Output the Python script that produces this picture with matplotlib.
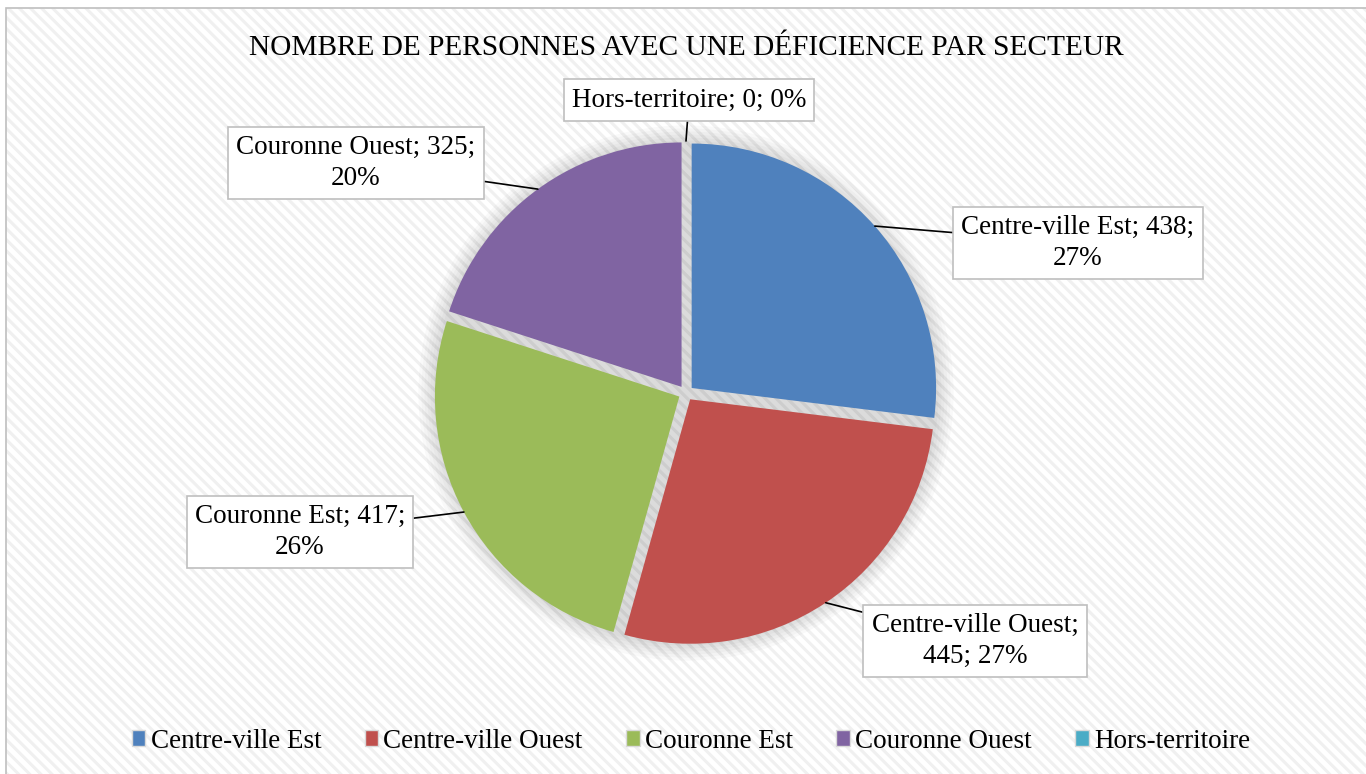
import numpy as np
import matplotlib
matplotlib.use("agg")
import matplotlib.pyplot as plt
from matplotlib.patches import Rectangle

# data
sectors = ["Centre-ville Est", "Centre-ville Ouest", "Couronne Est", "Couronne Ouest", "Hors-territoire"]
counts = [438, 445, 417, 325, 0]
colors = ["#4F81BD", "#C0504D", "#9BBB59", "#8064A2", "#4BACC6"]
title = "NOMBRE DE PERSONNES AVEC UNE DÉFICIENCE PAR SECTEUR"

plt.rcParams["font.family"] = ["Liberation Serif", "DejaVu Serif"]
plt.rcParams["hatch.linewidth"] = 2.2

W, H = 1366, 774
CX, CY, R = 686, 393, 252


def px(x, y):
    # pixel position -> data coords (pie radius = 1)
    return (x - CX) / R, (CY - y) / R


fig = plt.figure(figsize=(W / 100, H / 100), dpi=100)
fig.patch.set_facecolor("white")

# background with diagonal stripes + frame
bg = Rectangle((6, 0), W - 6, H - 8, transform=None, facecolor="white",
               edgecolor="#f0f0f0", hatch="\\\\\\", linewidth=0, zorder=-10)
fig.add_artist(bg)

ax = fig.add_axes([0, 0, 1, 1], zorder=1)
ax.patch.set_visible(False)
ax.axis("off")

# soft shadow
for k in range(6):
    ax.add_patch(plt.Circle((0, 0), 0.99 + 0.012 * (k + 1), color="#000000",
                            alpha=0.022, lw=0, zorder=1))

total = sum(counts)
wedges, _ = ax.pie(counts, colors=colors, startangle=90, counterclock=False,
                   explode=[0.03] * len(counts), radius=0.97,
                   wedgeprops=dict(linewidth=0), normalize=True)
ax.set_aspect("auto")
ax.set_xlim(-CX / R, (W - CX) / R)
ax.set_ylim((CY - H) / R, CY / R)
for w in wedges:
    w.set_zorder(3)

label_pos = [(1078, 243), (975, 641), (300, 532), (356, 163), (689, 100)]
for i, w in enumerate(wedges):
    pct = round(counts[i] / total * 100)
    if sectors[i] == "Centre-ville Ouest":
        txt = f"{sectors[i]};\n{counts[i]}; {pct}%"
    elif sectors[i] == "Hors-territoire":
        txt = f"{sectors[i]}; {counts[i]}; {pct}%"
    else:
        txt = f"{sectors[i]}; {counts[i]};\n{pct}%"
    ang = np.deg2rad((w.theta1 + w.theta2) / 2)
    cx, cy = w.center
    anchor = (cx + w.r * np.cos(ang), cy + w.r * np.sin(ang))
    ax.annotate(txt, xy=anchor, xytext=px(*label_pos[i]), ha="center", va="center",
                fontsize=19.5, linespacing=1.3, zorder=5,
                bbox=dict(boxstyle="square,pad=0.3", facecolor="white",
                          edgecolor="#bfbfbf", linewidth=1.2),
                arrowprops=dict(arrowstyle="-", color="black", lw=1.2,
                                shrinkA=0, shrinkB=0))

fig.text(686 / W, 1 - 48 / H, title, ha="center", va="center", fontsize=21.2)

leg = ax.legend(wedges, sectors, loc="center", bbox_to_anchor=(691 / W, 1 - 741 / H),
                bbox_transform=fig.transFigure, ncol=5, frameon=False, fontsize=19.5,
                handlelength=0.5, handleheight=0.5, handletextpad=0.2, columnspacing=1.6)
for h in leg.legend_handles:
    h.set_edgecolor("#d9d9d9")
    h.set_linewidth(1)

frame = Rectangle((6, -5), W, H - 8 + 5, transform=None, facecolor="none",
                  edgecolor="#bfbfbf", linewidth=1.2, zorder=10)
fig.add_artist(frame)

fig.savefig("out.png", dpi=100)
